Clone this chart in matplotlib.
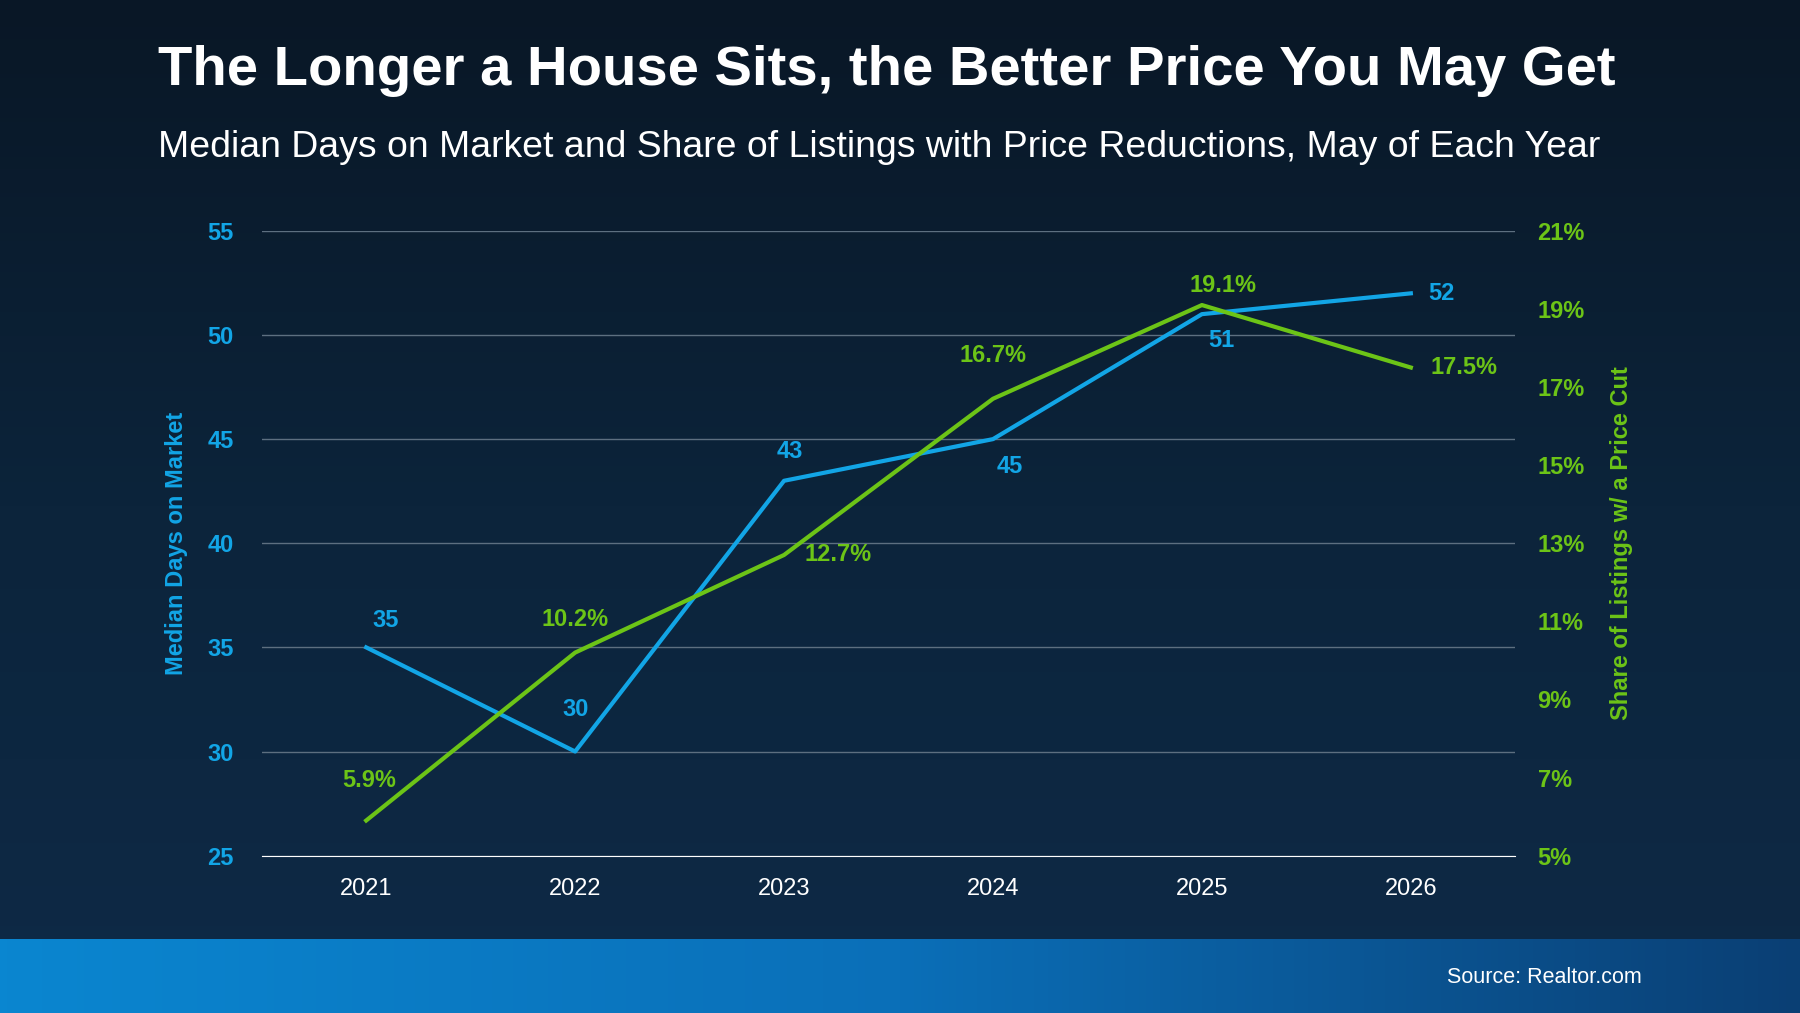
import matplotlib
matplotlib.use("Agg")
import matplotlib.pyplot as plt
import numpy as np
from matplotlib.colors import LinearSegmentedColormap

plt.rcParams.update({"font.family": ["Liberation Sans", "DejaVu Sans"]})

years = ["2021", "2022", "2023", "2024", "2025", "2026"]
days = [35, 30, 43, 45, 51, 52]
share = [5.9, 10.2, 12.7, 16.7, 19.1, 17.5]
day_labels = ["35", "30", "43", "45", "51", "52"]
share_labels = ["5.9%", "10.2%", "12.7%", "16.7%", "19.1%", "17.5%"]

BLUE = "#12a5e6"; GREEN = "#6cc417"; GRID = "#5d6f80"
W, H = 1568, 882

fig = plt.figure(figsize=(18, 10.13), dpi=100)
bg = fig.add_axes([0, 0, 1, 1]); bg.axis("off")
bg_cmap = LinearSegmentedColormap.from_list("bg", ["#091726", "#0c243b", "#0e2a47"])
bg.imshow(np.linspace(0, 1, 256)[:, None], aspect="auto", cmap=bg_cmap, extent=[0, 1, 0, 1], transform=bg.transAxes)
band = fig.add_axes([0, 0, 1, 64 / H]); band.axis("off")
band_cmap = LinearSegmentedColormap.from_list("band", ["#0a86d0", "#0b6fb8", "#0a3f74"])
band.imshow(np.linspace(0, 1, 256)[None, :], aspect="auto", cmap=band_cmap, extent=[0, 1, 0, 1])
fig.text(1430 / W, 1 - 851 / H, "Source: Realtor.com", color="white", fontsize=15.5, ha="right", va="center")

fig.text(138 / W, 1 - 62 / H, "The Longer a House Sits, the Better Price You May Get",
         color="white", fontsize=40.5, fontweight="bold", va="center")
fig.text(138 / W, 1 - 128 / H, "Median Days on Market and Share of Listings with Price Reductions, May of Each Year",
         color="white", fontsize=26.9, va="center")

FS = 17
ax = fig.add_axes([228 / W, 1 - 745 / H, (1320 - 228) / W, (745 - 201) / H])
ax.set_facecolor("none")
x = np.arange(len(years))
ax.set_xlim(-0.5, 5.5); ax.set_ylim(25, 55)
ax.set_yticks(range(25, 56, 5))
ax.grid(axis="y", color=GRID, lw=1)
ax.set_axisbelow(True)
for s in ["top", "left", "right"]:
    ax.spines[s].set_visible(False)
ax.spines["bottom"].set_color("white")
ax.set_xticks(x, years)
ax.tick_params(axis="x", colors="white", labelsize=FS, length=0, pad=16)
ax.tick_params(axis="y", colors=BLUE, labelsize=FS, length=0, pad=20)
for t in ax.get_yticklabels():
    t.set_fontweight("bold")
ax.set_ylabel("Median Days on Market", color=BLUE, fontsize=FS, fontweight="bold", labelpad=14)

ax2 = ax.twinx()
ax2.set_ylim(5, 21)
ax2.set_yticks(range(5, 22, 2), [f"{v}%" for v in range(5, 22, 2)])
for s in ax2.spines.values():
    s.set_visible(False)
ax2.tick_params(axis="y", colors=GREEN, labelsize=FS, length=0, pad=16)
for t in ax2.get_yticklabels():
    t.set_fontweight("bold")
ax2.set_ylabel("Share of Listings w/ a Price Cut", color=GREEN, fontsize=FS, fontweight="bold", labelpad=18)

ax.plot(x, days, color=BLUE, lw=3, zorder=3)
ax2.plot(x, share, color=GREEN, lw=3, zorder=4)

day_off = [(14, 19), (0, 30), (4, 21), (12, -20), (14, -19), (22, 0)]
share_off = [(2, 29), (0, 24), (39, 0), (0, 31), (15, 14), (38, 0)]
for i in x:
    ax.annotate(day_labels[i], (i, days[i]), xytext=day_off[i], textcoords="offset points",
                color=BLUE, fontsize=FS, fontweight="bold", ha="center", va="center")
    ax2.annotate(share_labels[i], (i, share[i]), xytext=share_off[i], textcoords="offset points",
                 color=GREEN, fontsize=FS, fontweight="bold", ha="center", va="center")

fig.savefig("out.png", dpi=100)
